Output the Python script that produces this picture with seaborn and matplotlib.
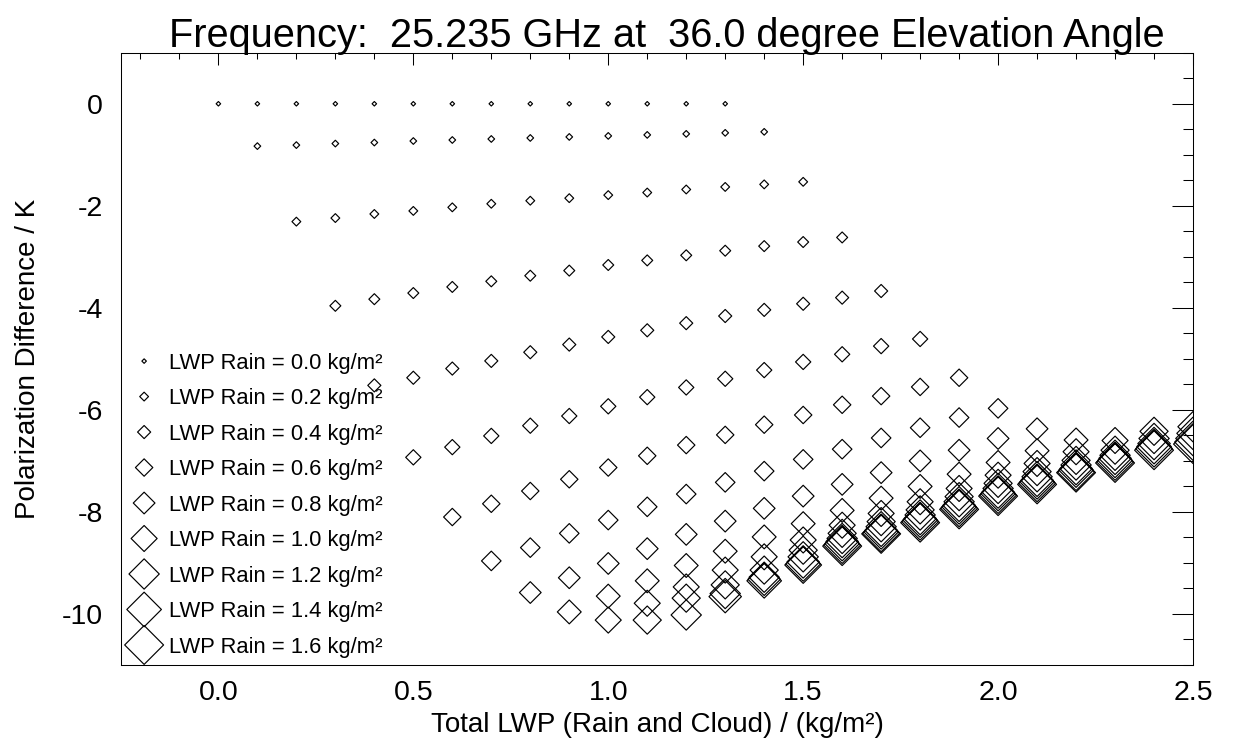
import numpy as np
import seaborn as sns
import matplotlib.pyplot as plt
from matplotlib.ticker import MultipleLocator, FormatStrFormatter

# cloud LWP steps (kg/m2); total LWP = rain + cloud
cloud_lwp = [0.0, 0.1, 0.2, 0.3, 0.4, 0.5, 0.6, 0.7, 0.8, 0.9, 1.0, 1.1, 1.2, 1.3]
rain_lwp = [0.0, 0.1, 0.2, 0.3, 0.4, 0.5, 0.6, 0.7, 0.8,
            0.9, 1.0, 1.1, 1.2, 1.3, 1.4, 1.5, 1.6]

# polarization difference (K) for each rain LWP
pdiff_r00 = [0.0, 0.0, 0.0, 0.0, 0.0, 0.0, 0.0, 0.0, 0.0, 0.0, 0.0, 0.0, 0.0, 0.0]
pdiff_r01 = [-0.83, -0.81, -0.78, -0.76, -0.73, -0.71, -0.69, -0.67, -0.65, -0.63, -0.61, -0.59, -0.57, -0.55]
pdiff_r02 = [-2.31, -2.24, -2.16, -2.10, -2.03, -1.96, -1.90, -1.85, -1.79, -1.74, -1.68, -1.63, -1.58, -1.53]
pdiff_r03 = [-3.96, -3.83, -3.71, -3.59, -3.48, -3.37, -3.27, -3.16, -3.07, -2.97, -2.88, -2.79, -2.71, -2.62]
pdiff_r04 = [-5.52, -5.37, -5.19, -5.04, -4.87, -4.72, -4.57, -4.44, -4.30, -4.16, -4.04, -3.92, -3.80, -3.67]
pdiff_r05 = [-6.93, -6.73, -6.51, -6.31, -6.12, -5.93, -5.75, -5.56, -5.39, -5.22, -5.06, -4.91, -4.75, -4.61]
pdiff_r06 = [-8.10, -7.84, -7.59, -7.36, -7.13, -6.90, -6.69, -6.49, -6.29, -6.10, -5.90, -5.73, -5.55, -5.37]
pdiff_r07 = [-8.96, -8.70, -8.42, -8.16, -7.90, -7.65, -7.42, -7.20, -6.97, -6.77, -6.55, -6.35, -6.15, -5.97]
pdiff_r08 = [-9.58, -9.29, -9.01, -8.72, -8.44, -8.18, -7.93, -7.69, -7.46, -7.23, -7.00, -6.79, -6.56, -6.37]
pdiff_r09 = [-9.96, -9.65, -9.35, -9.05, -8.77, -8.49, -8.23, -7.97, -7.73, -7.50, -7.26, -7.03, -6.80, -6.59]
pdiff_r10 = [-10.12, -9.79, -9.47, -9.14, -8.88, -8.55, -8.26, -8.03, -7.80, -7.54, -7.28, -7.05, -6.82, -6.60]
pdiff_r11 = [-10.12, -9.69, -9.43, -9.14, -8.75, -8.42, -8.19, -7.96, -7.70, -7.44, -7.21, -6.99, -6.79, -6.42]
pdiff_r12 = [-10.02, -9.60, -9.28, -8.88, -8.52, -8.29, -8.06, -7.80, -7.54, -7.31, -7.08, -6.89, -6.56, -6.33]
pdiff_r13 = [-9.66, -9.32, -8.98, -8.58, -8.36, -8.13, -7.87, -7.61, -7.38, -7.15, -6.95, -6.66, -6.46]
pdiff_r14 = [-9.35, -9.02, -8.62, -8.39, -8.16, -7.90, -7.64, -7.41, -7.18, -6.99, -6.72, -6.56]
pdiff_r15 = [-9.04, -8.65, -8.42, -8.19, -7.93, -7.67, -7.44, -7.22, -7.02, -6.76, -6.63]
pdiff_r16 = [-8.67, -8.43, -8.21, -7.95, -7.69, -7.46, -7.23, -7.04, -6.79, -6.67]

all_series = [pdiff_r00, pdiff_r01, pdiff_r02, pdiff_r03, pdiff_r04, pdiff_r05,
              pdiff_r06, pdiff_r07, pdiff_r08, pdiff_r09, pdiff_r10, pdiff_r11,
              pdiff_r12, pdiff_r13, pdiff_r14, pdiff_r15, pdiff_r16]

sns.set_theme(style="white")
plt.rcParams["font.family"] = ["Liberation Sans", "DejaVu Sans"]
plt.rcParams["axes.unicode_minus"] = False
plt.rcParams["text.color"] = "black"
plt.rcParams["axes.labelcolor"] = "black"

fig, ax = plt.subplots(figsize=(12.34, 7.43), dpi=100)
fig.subplots_adjust(left=0.098, right=0.9668, top=0.929, bottom=0.105)

for rain, vals in zip(rain_lwp, all_series):
    total = [round(rain + c, 2) for c in cloud_lwp[:len(vals)]]
    # symbol grows with rain amount (vertex-to-vertex width in pixels)
    width_px = 4.5 + 21.5 * rain
    ms = width_px / (np.sqrt(2) * 100 / 72)
    if round(rain * 10) % 2 == 0:
        label = f"LWP Rain = {rain:.1f} kg/m²"
    else:
        label = "_nolegend_"
    sns.scatterplot(x=total, y=vals, marker="D", s=ms ** 2, color="black",
                    facecolor="none", edgecolor="black", linewidth=0.85,
                    label=label, ax=ax)

ax.set_xlim(-0.25, 2.5)
ax.set_ylim(-11, 1)
ax.xaxis.set_major_locator(MultipleLocator(0.5))
ax.xaxis.set_minor_locator(MultipleLocator(0.1))
ax.yaxis.set_major_locator(MultipleLocator(2))
ax.yaxis.set_minor_locator(MultipleLocator(0.5))
ax.xaxis.set_major_formatter(FormatStrFormatter("%.1f"))

ax.tick_params(which="both", direction="in", top=True, right=True,
               color="black", width=0.75, labelsize=20.5, labelcolor="black")
ax.tick_params(axis="x", which="major", length=8.5, pad=11)
ax.tick_params(axis="x", which="minor", length=4.3)
ax.tick_params(axis="y", which="major", length=15, pad=13)
ax.tick_params(axis="y", which="minor", length=7.5)
for sp in ax.spines.values():
    sp.set_color("black")
    sp.set_linewidth(0.75)

ax.set_title("Frequency:  25.235 GHz at  36.0 degree Elevation Angle",
             fontsize=28.6, pad=4, x=0.509, color="black")
ax.set_xlabel("Total LWP (Rain and Cloud) / (kg/m²)", fontsize=20, labelpad=4)
ax.set_ylabel("Polarization Difference / K", fontsize=20, labelpad=15)

ax.legend(loc="lower left", bbox_to_anchor=(0.0114, 0.012), frameon=False,
          fontsize=15.8, handlelength=1.0, handletextpad=0.62,
          labelspacing=0.66, borderpad=0, borderaxespad=0,
          scatterpoints=1, scatteryoffsets=[0.5], labelcolor="black")

fig.savefig("out.png", dpi=100)
